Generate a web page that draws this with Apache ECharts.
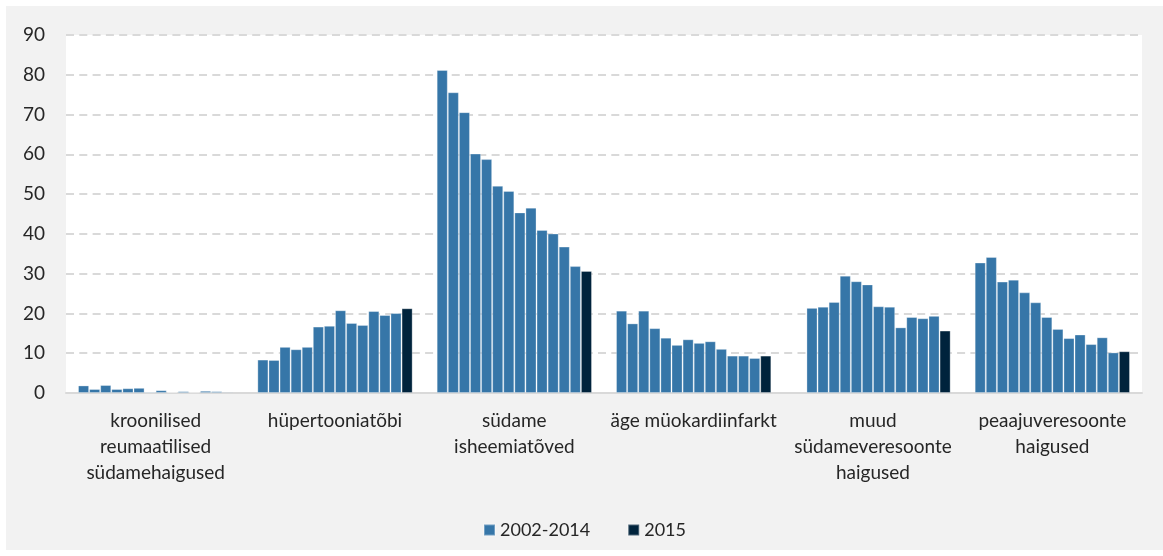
<!DOCTYPE html>
<html>
<head>
<meta charset="utf-8">
<script src="https://cdn.jsdelivr.net/npm/echarts@6/dist/echarts.min.js"></script>
<style>
  html, body { margin: 0; padding: 0; background: #fff; }
  #chart { position: absolute; left: 6px; top: 6px; width: 1157px; height: 544px; }
</style>
</head>
<body>
<div id="chart"></div>
<script>
// kategooriad (x-telg)
const categories = [
  'kroonilised\nreumaatilised\nsüdamehaigused',
  'hüpertooniatõbi',
  'südame\nisheemiatõved',
  'äge müokardiinfarkt',
  'muud\nsüdameveresoonte\nhaigused',
  'peaajuveresoonte\nhaigused'
]
const years = ['2002', '2003', '2004', '2005', '2006', '2007', '2008', '2009', '2010', '2011', '2012', '2013', '2014', '2015']
const yTicks = [0, 10, 20, 30, 40, 50, 60, 70, 80, 90]

// väärtused aastate kaupa, 2002..2015
const reuma = [1.9, 1.0, 2.0, 1.0, 1.2, 1.3, 0.3, 0.7, 0.25, 0.45, 0.2, 0.55, 0.45, 0.3]
const hyper = [8.4, 8.3, 11.6, 11.0, 11.6, 16.7, 16.9, 20.8, 17.6, 17.1, 20.6, 19.6, 20.1, 21.3]
const isheemia = [81.2, 75.6, 70.6, 60.2, 58.8, 52.1, 50.8, 45.4, 46.6, 41.0, 40.1, 36.8, 31.9, 30.7]
const infarkt = [20.7, 17.5, 20.7, 16.3, 13.9, 12.1, 13.5, 12.6, 13.0, 11.1, 9.4, 9.4, 8.8, 9.4]
const muud = [null, 21.4, 21.7, 22.9, 29.5, 28.1, 27.3, 21.8, 21.7, 16.5, 19.1, 18.8, 19.4, 15.7]
const peaaju = [32.8, 34.2, 28.0, 28.5, 25.3, 22.8, 19.1, 16.1, 13.8, 14.7, 12.3, 14.0, 10.2, 10.5]

const groups = [reuma, hyper, isheemia, infarkt, muud, peaaju]
const font = 'Lato, "Open Sans", sans-serif'

const series = years.map((y, i) => {
  const last = i === years.length - 1
  return {
    name: last ? '2015' : '2002-2014',
    type: 'bar',
    barGap: '0%',
    barCategoryGap: '13.4%',
    data: groups.map(g => g[i] === null ? '-' : g[i]),
    itemStyle: {
      color: last ? '#00233c' : '#3676a8',
      borderColor: 'rgba(255,255,255,0.3)',
      borderWidth: 1
    }
  }
})

const myChart = echarts.init(document.getElementById('chart'))
const option = {
  animation: false,
  backgroundColor: '#f2f2f2',
  textStyle: { fontFamily: font },
  grid: {
    left: 60,
    right: 21,
    top: 29,
    bottom: 157,
    show: true,
    backgroundColor: '#fff',
    borderWidth: 0
  },
  legend: {
    data: ['2002-2014', '2015'],
    left: 'center',
    top: 510,
    icon: 'rect',
    itemWidth: 11,
    itemHeight: 11,
    itemGap: 37,
    textStyle: { fontFamily: font, fontSize: 18, color: '#262626' }
  },
  xAxis: {
    type: 'category',
    data: categories,
    axisTick: { show: false },
    axisLine: { lineStyle: { color: '#d9d9d9', width: 2 } },
    axisLabel: {
      interval: 0,
      margin: 15,
      fontFamily: font,
      fontSize: 19,
      lineHeight: 26,
      color: '#262626'
    }
  },
  yAxis: {
    type: 'value',
    min: yTicks[0],
    max: yTicks[yTicks.length - 1],
    interval: 10,
    axisLine: { show: false },
    axisTick: { show: false },
    axisLabel: { margin: 21, fontFamily: font, fontSize: 19, color: '#262626' },
    splitLine: {
      lineStyle: { color: '#d9d9d9', width: 2, type: [8, 5.3] }
    }
  },
  series: series
}
myChart.setOption(option)
</script>
</body>
</html>
